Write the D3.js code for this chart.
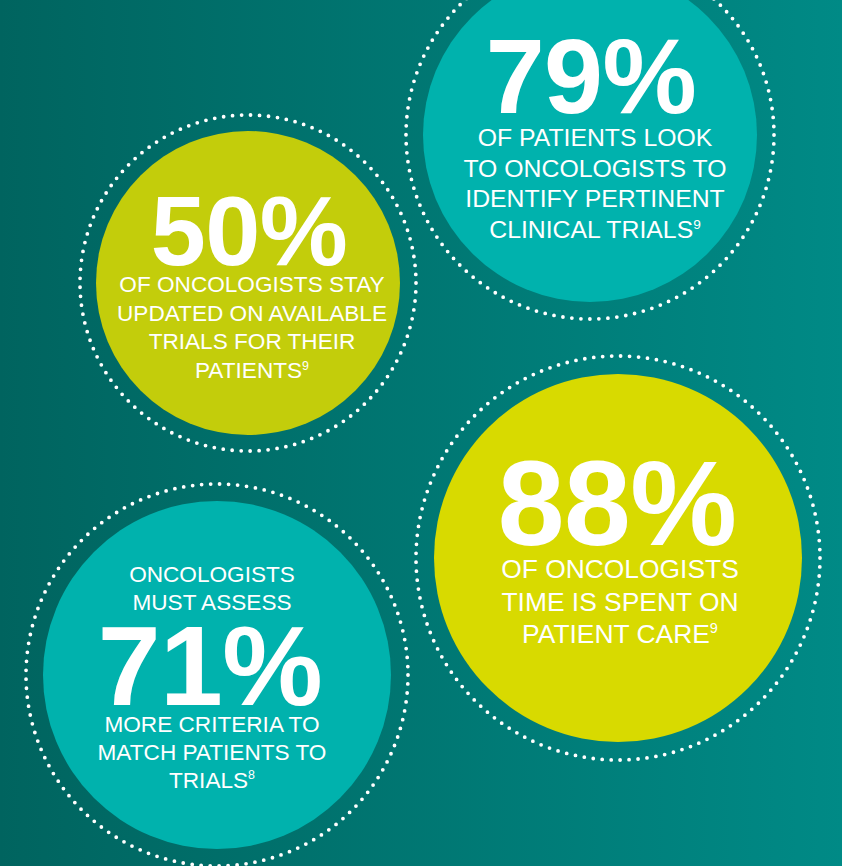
<!DOCTYPE html>
<html>
<head>
<meta charset="utf-8">
<script src="https://cdn.jsdelivr.net/npm/d3@7"></script>
<style>
  body { margin: 0; background: #006b66; }
  svg { display: block; }
  text { font-family: "Liberation Sans", Arial, Helvetica, sans-serif; fill: #fff; }
</style>
</head>
<body>
<div id="chart"></div>
<script>
// stats shown in the bubbles
var values = [79, 50, 88, 71];
var headLines = [[], [], [], ["ONCOLOGISTS", "MUST ASSESS"]];
var bodyLines = [
    ["OF PATIENTS LOOK", "TO ONCOLOGISTS TO", "IDENTIFY PERTINENT", "CLINICAL TRIALS"],
    ["OF ONCOLOGISTS STAY", "UPDATED ON AVAILABLE", "TRIALS FOR THEIR", "PATIENTS"],
    ["OF ONCOLOGISTS", "TIME IS SPENT ON", "PATIENT CARE"],
    ["MORE CRITERIA TO", "MATCH PATIENTS TO", "TRIALS"]
];
var refs = ["9", "9", "9", "8"];
var kinds = ["teal", "lime", "yellow", "teal"];

var svgWidth = 842;
var svgHeight = 866;

// where each bubble sits on the page
var layout = [
    {cx: 590, cy: 135, r: 167, ring: 184, nx: 591, ny: 113, ns: 106, tx: 595, ts: 24.8, gap: 30.7, hy: 0, by: 146},
    {cx: 248, cy: 283, r: 152, ring: 168, nx: 249, ny: 265, ns: 99, tx: 252, ts: 22.6, gap: 28.7, hy: 0, by: 292},
    {cx: 618, cy: 558, r: 184, ring: 202, nx: 617, ny: 545, ns: 120, tx: 620, ts: 26.4, gap: 32.5, hy: 0, by: 578},
    {cx: 217, cy: 675, r: 174, ring: 191, nx: 210, ny: 705, ns: 113, tx: 212, ts: 22.6, gap: 27.8, hy: 582, by: 732}
];

var color = d3.scaleOrdinal()
    .domain(["teal", "lime", "yellow"])
    .range(["#00b2ad", "#c3cd0b", "#d8da00"]);

var svg = d3.select("#chart")
    .append("svg")
    .attr("width", svgWidth)
    .attr("height", svgHeight);

var grad = svg.append("defs").append("linearGradient")
    .attr("id", "bg")
    .attr("x1", "0").attr("y1", "0")
    .attr("x2", "1").attr("y2", "0");
grad.append("stop").attr("offset", "0").attr("stop-color", "#00645f");
grad.append("stop").attr("offset", "1").attr("stop-color", "#008a86");

svg.append("rect")
    .attr("width", svgWidth)
    .attr("height", svgHeight)
    .attr("fill", "url(#bg)");

var bubbles = svg.selectAll("g.bubble")
    .data(values)
    .enter()
    .append("g")
    .attr("class", "bubble");

// dotted outer ring
bubbles.append("circle")
    .attr("cx", (d, i) => layout[i].cx)
    .attr("cy", (d, i) => layout[i].cy)
    .attr("r", (d, i) => layout[i].ring)
    .attr("fill", "none")
    .attr("stroke", "#fff")
    .attr("stroke-width", 3.8)
    .attr("stroke-linecap", "round")
    .attr("stroke-dasharray", (d, i) => {
        var c = 2 * Math.PI * layout[i].ring;
        var n = Math.round(c / 9);
        return "0 " + (c / n);
    });

bubbles.append("circle")
    .attr("cx", (d, i) => layout[i].cx)
    .attr("cy", (d, i) => layout[i].cy)
    .attr("r", (d, i) => layout[i].r)
    .attr("fill", (d, i) => color(kinds[i]));

// big number
bubbles.append("text")
    .attr("x", (d, i) => layout[i].nx)
    .attr("y", (d, i) => layout[i].ny)
    .attr("text-anchor", "middle")
    .attr("font-weight", "bold")
    .attr("font-size", (d, i) => layout[i].ns)
    .attr("letter-spacing", -0.5)
    .text(d => d + "%");

bubbles.each(function(d, i) {
    var g = d3.select(this);
    var L = layout[i];

    headLines[i].forEach((line, j) => {
        g.append("text")
            .attr("x", L.tx)
            .attr("y", L.hy + j * L.gap)
            .attr("text-anchor", "middle")
            .attr("font-size", L.ts)
            .text(line);
    });

    bodyLines[i].forEach((line, j) => {
        var t = g.append("text")
            .attr("x", L.tx)
            .attr("y", L.by + j * L.gap)
            .attr("text-anchor", "middle")
            .attr("font-size", L.ts);
        t.append("tspan").text(line);
        if (j == bodyLines[i].length - 1) {
            t.append("tspan")
                .attr("font-size", L.ts * 0.55)
                .attr("dy", -L.ts * 0.38)
                .text(refs[i]);
        }
    });
});
</script>
</body>
</html>
